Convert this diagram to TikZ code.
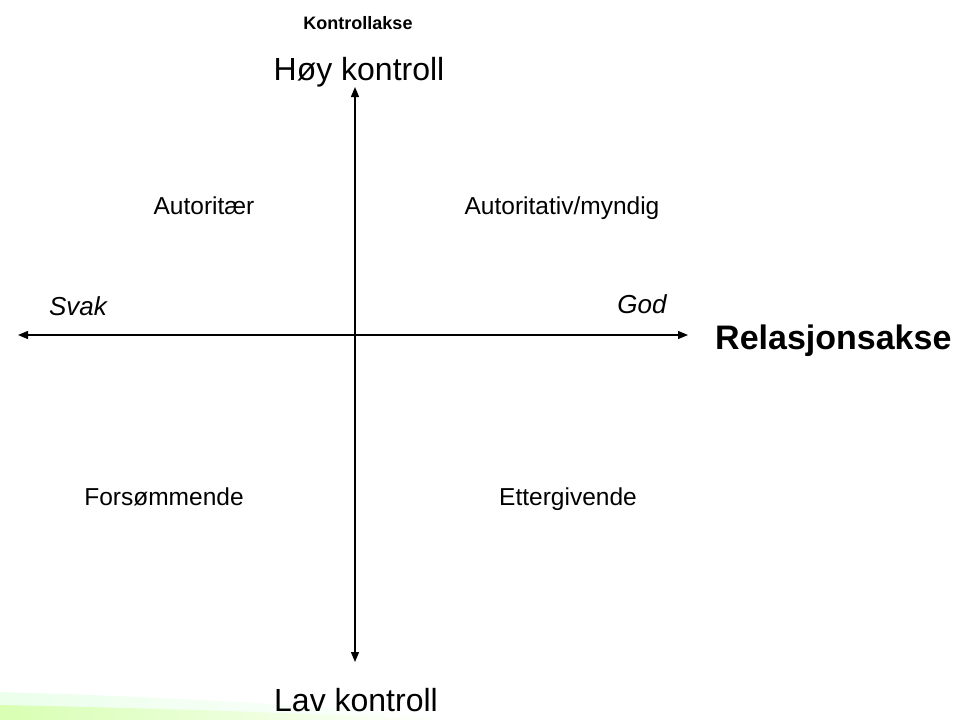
\documentclass[tikz,border=0pt]{standalone}
\usepackage{fontspec}
\setmainfont{Liberation Sans}
\usetikzlibrary{arrows.meta}
\begin{document}
\begin{tikzpicture}[x=1pt,y=-1pt,
  axisline/.style={line width=1.3pt,{Triangle[length=10pt,width=8pt]}-{Triangle[length=10pt,width=8pt]}},
  big/.style={font=\fontsize{32}{36}\selectfont,inner sep=0pt,anchor=base},
  bigbold/.style={font=\fontsize{34}{38}\selectfont\bfseries,inner sep=0pt,anchor=base west},
  quad/.style={font=\fontsize{24.5}{29}\selectfont,inner sep=0pt,anchor=base},
  pole/.style={font=\fontsize{26}{30}\selectfont\itshape,inner sep=0pt,anchor=base},
  small/.style={font=\fontsize{18}{21}\selectfont\bfseries,inner sep=0pt,anchor=base}]
\useasboundingbox (0,0) rectangle (956,720);
\fill[white] (0,0) rectangle (956,720);
% faint green swoosh at bottom left
\shade[left color=green!35!yellow!45!white, right color=white]
  (0,705) .. controls (150,708) and (300,713) .. (450,720) -- (0,720) -- cycle;
\shade[left color=green!15!white, right color=white, opacity=0.5]
  (0,692) .. controls (150,696) and (300,705) .. (450,716) -- (450,720) -- (0,720) -- cycle;
% axes
\coordinate (top) at (355,87);
\coordinate (bot) at (355,662);
\coordinate (left) at (18,335);
\coordinate (right) at (688,335);
\draw[axisline] (bot) -- (top);
\draw[axisline] (left) -- (right);
% labels
\node[small] (kakse) at (358,29) {Kontrollakse};
\node[big] (hoy) at (359,80) {Høy kontroll};
\node[big] (lav) at (356,711) {Lav kontroll};
\node[bigbold] (rel) at (715,349) {Relasjonsakse};
\node[pole] (svak) at (78,315) {Svak};
\node[pole] (god) at (642,313) {God};
\node[quad] (aut) at (204,214) {Autoritær};
\node[quad] (autm) at (562,214) {Autoritativ/myndig};
\node[quad] (fors) at (164,505) {Forsømmende};
\node[quad] (ett) at (568,505) {Ettergivende};
\end{tikzpicture}
\end{document}
